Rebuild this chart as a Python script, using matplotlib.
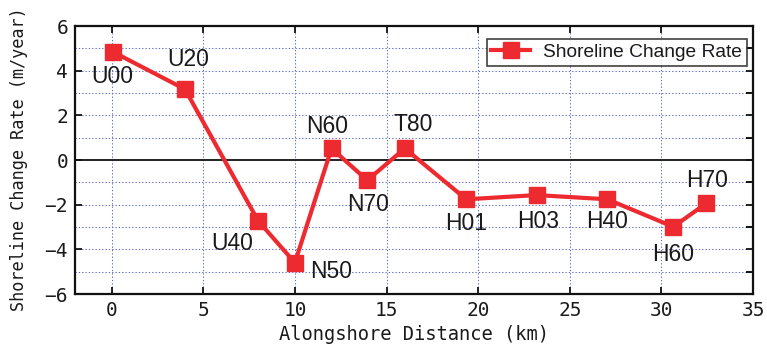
import matplotlib
matplotlib.use("Agg")
import matplotlib.pyplot as plt
from matplotlib.ticker import MultipleLocator

# Alongshore survey stations and their shoreline change rates
stations = ["U00", "U20", "U40", "N50", "N60", "N70", "T80",
            "H01", "H03", "H40", "H60", "H70"]
distance_km = [0.05, 4.0, 8.0, 10.0, 12.0, 13.95, 16.0,
               19.35, 23.2, 27.05, 30.65, 32.45]
rate_m_per_year = [4.85, 3.17, -2.73, -4.6, 0.52, -0.91, 0.52,
                   -1.76, -1.57, -1.76, -2.99, -1.94]

# label placement relative to each marker (data units)
label_dx = [0.0, 0.2, -1.4, 2.0, -0.25, 0.05, 0.45,
            0.0, 0.1, 0.0, 0.0, 0.05]
label_dy = [-1.13, 1.31, -0.99, -0.4, 1.0, -1.07, 1.05,
            -1.08, -1.19, -1.0, -1.26, 1.01]

x_ticks = [0, 5, 10, 15, 20, 25, 30, 35]
y_ticks = [-6, -4, -2, 0, 2, 4, 6]

red = "#ee2a31"
grid_blue = "#5a68bd"
text_col = "#1a1a1a"
mono = ["DejaVu Sans Mono"]
sans = ["Liberation Sans", "DejaVu Sans"]

fig = plt.figure(figsize=(7.67, 3.54), dpi=100)
ax = fig.add_axes([75 / 767, 1 - 294 / 354, 678 / 767, 268 / 354])

ax.set_xlim(-2, 35)
ax.set_ylim(-6, 6)

# dotted grid
for xv in x_ticks[:-1]:
    ax.axvline(xv, color=grid_blue, lw=0.75, ls=(0, (1.2, 2.0)), zorder=1)
for yv in range(-5, 6):
    if yv != 0:
        ax.axhline(yv, color=grid_blue, lw=0.75, ls=(0, (1.2, 2.0)), zorder=1)
ax.axhline(0, color="#111111", lw=1.3, zorder=2)

ax.plot(distance_km, rate_m_per_year, color=red, lw=3.0, marker="s",
        markersize=11.5, markerfacecolor=red, markeredgecolor=red,
        label="Shoreline Change Rate", zorder=3)

for name, xv, yv, dx, dy in zip(stations, distance_km, rate_m_per_year,
                                label_dx, label_dy):
    ax.text(xv + dx, yv + dy, name, ha="center", va="center",
            fontsize=16.5, family=sans, color=text_col, zorder=4)

ax.set_xticks(x_ticks)
ax.set_yticks(y_ticks)
ax.yaxis.set_minor_locator(MultipleLocator(1))
ax.tick_params(which="major", direction="in", length=5, width=1.3,
               top=True, right=True, labelsize=14, colors="#111111",
               pad=5)
ax.tick_params(which="minor", direction="in", length=5, width=1.3,
               left=False, right=True)
ax.set_xticklabels([str(v) for v in x_ticks])
ax.set_yticklabels([f"\u2212{abs(v)}" if v < 0 else str(v) for v in y_ticks])
for lab in ax.get_xticklabels() + ax.get_yticklabels():
    lab.set_family(mono)
    lab.set_color(text_col)

for sp in ax.spines.values():
    sp.set_linewidth(1.6)
    sp.set_color("#111111")

ax.set_xlabel("Alongshore Distance (km)", family=mono, fontsize=13.5,
              color=text_col, labelpad=4)
ax.set_ylabel("Shoreline Change Rate (m/year)", family=mono, fontsize=12.2,
              color=text_col, labelpad=4)
ax.yaxis.set_label_coords(-0.069, 0.505)

leg = ax.legend(loc="upper right", bbox_to_anchor=(0.991, 0.9515),
                prop={"family": sans, "size": 13.8}, frameon=True,
                fancybox=False, handlelength=2.0, borderpad=0.25,
                handletextpad=0.7, borderaxespad=0.0)
leg.get_frame().set_edgecolor("#111111")
leg.get_frame().set_linewidth(1.2)
for t in leg.get_texts():
    t.set_color(text_col)

fig.savefig("out.png", dpi=100)
